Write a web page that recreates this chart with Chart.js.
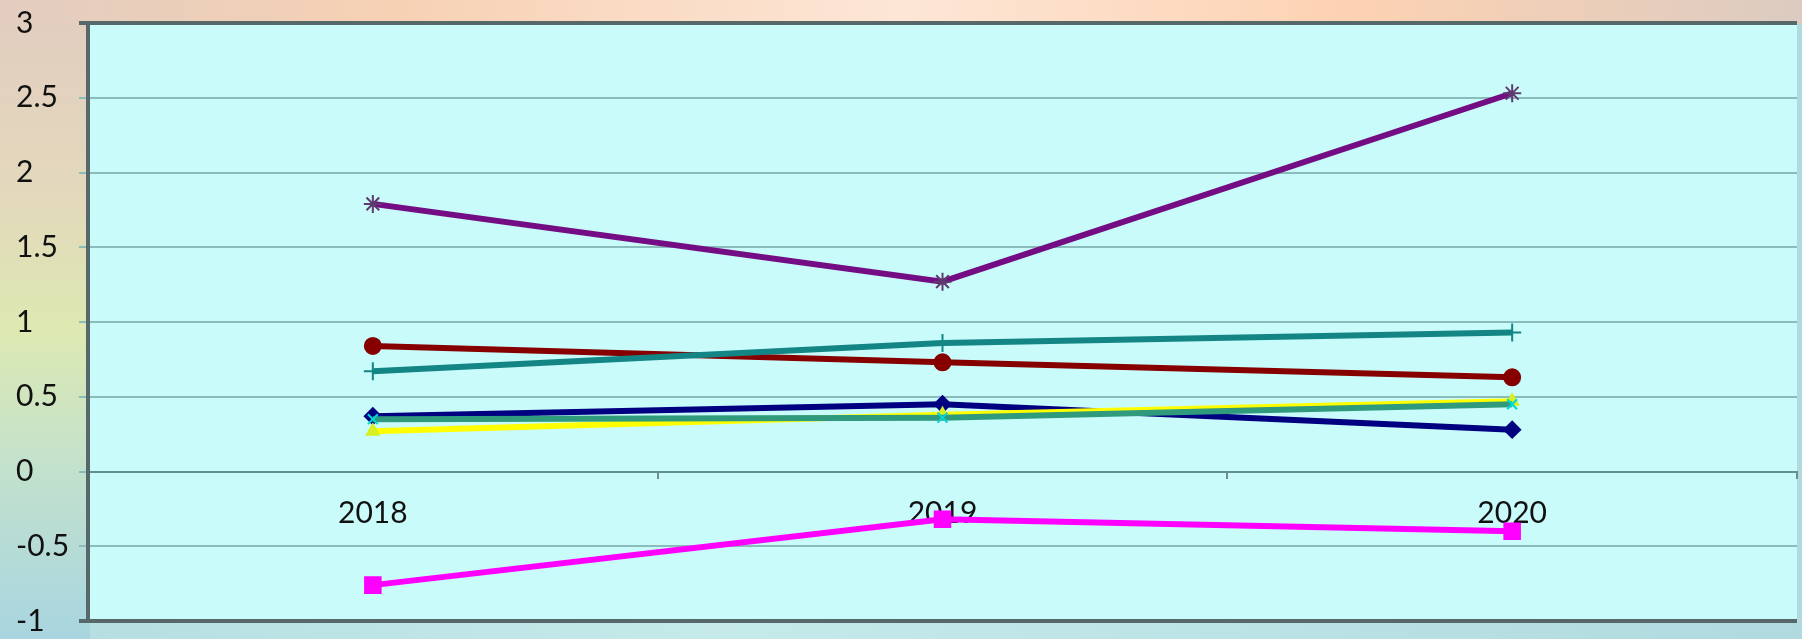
<!DOCTYPE html>
<html>
<head>
<meta charset="utf-8">
<script src="https://cdn.jsdelivr.net/npm/chart.js@4"></script>
<style>
  html, body { margin: 0; padding: 0; }
  body {
    width: 1802px; height: 639px; overflow: hidden; position: relative;
    background:
      linear-gradient(to right, #e2cdc0 0%, #f7d1b4 22%, #fde6d6 50%, #fdd2b2 75%, #dccbc1 100%) top left / 100% 24px no-repeat,
      linear-gradient(to bottom, #e2cdc0 0%, #e3d8bc 30%, #dde9b2 52%, #c4e2cc 72%, #a8d5e0 100%) top left / 90px 100% no-repeat,
      linear-gradient(to right, #b4dde0 0%, #c6eaea 40%, #b0dae0 100%);
  }
  #myChart { position: absolute; left: 0; top: 0; }
</style>
</head>
<body>
<canvas id="myChart" width="1810" height="639"></canvas>
<script>
let years = ["2018", "2019", "2020"]
let yTicks = [-1, -0.5, 0, 0.5, 1, 1.5, 2, 2.5, 3]

let navyValues = [0.37, 0.45, 0.28]
let magentaValues = [-0.76, -0.32, -0.40]
let yellowValues = [0.27, 0.38, 0.47]
let greenValues = [0.35, 0.36, 0.45]
let purpleValues = [1.79, 1.27, 2.53]
let redValues = [0.84, 0.73, 0.63]
let tealValues = [0.67, 0.86, 0.93]

// plot area background
const plotBg = {
    id: 'plotBg',
    beforeDraw(chart) {
        const {ctx, chartArea: a} = chart
        ctx.save()
        ctx.fillStyle = '#c9fbfb'
        ctx.fillRect(a.left, a.top, a.right - a.left, a.bottom - a.top)
        ctx.restore()
    }
}

function series(data, color, style, radius, markColor, order) {
    return {
        data: data,
        borderColor: color,
        borderWidth: 6,
        pointStyle: style,
        pointRadius: radius,
        pointBackgroundColor: markColor,
        pointBorderColor: markColor,
        pointBorderWidth: 2,
        tension: 0,
        order: order
    }
}

new Chart("myChart", {
    type: "line",
    data: {
        labels: years,
        datasets: [
            series(navyValues, '#000080', 'rectRot', 8, '#000080', 7),
            series(magentaValues, '#ff00ff', 'rect', 11, '#ff00ff', 6),
            series(yellowValues, '#ffff00', 'triangle', 7, '#d8f020', 5),
            series(greenValues, '#2f9a7c', 'crossRot', 7, '#00d8d8', 4),
            series(purpleValues, '#740c84', 'star', 9, '#5e3a6e', 3),
            series(redValues, '#860000', 'circle', 8, '#860000', 2),
            series(tealValues, '#138585', 'cross', 9, '#138585', 1)
        ]
    },
    options: {
        responsive: false,
        animation: false,
        devicePixelRatio: 1,
        layout: {padding: {left: 16, top: 23, right: 0, bottom: 14}},
        plugins: {legend: {display: false}, tooltip: {enabled: false}},
        scales: {
            x: {
                position: {y: 0},
                offset: true,
                grid: {display: true, offset: true, drawOnChartArea: false, drawTicks: true, tickLength: 6, color: '#6f8f8f', lineWidth: 2},
                border: {display: true, color: '#628f8f', width: 2},
                ticks: {padding: 18, color: '#111', font: {family: 'Lato', size: 30}}
            },
            y: {
                min: -1,
                max: 3,
                afterBuildTicks: s => { s.ticks = yTicks.map(v => ({value: v})) },
                afterFit: s => { s.width = 72 },
                grid: {
                    color: c => (c.tick.value === 3 || c.tick.value === -1) ? '#56686a' : '#8abcbc',
                    lineWidth: c => (c.tick.value === 3 || c.tick.value === -1) ? 4 : 2,
                    tickLength: 9
                },
                border: {display: true, color: '#56686a', width: 4},
                ticks: {
                    autoSkip: false,
                    crossAlign: 'far',
                    padding: 0,
                    color: '#111',
                    font: {family: 'Lato', size: 30},
                    callback: v => String(v)
                }
            }
        }
    },
    plugins: [plotBg]
})
</script>
</body>
</html>
